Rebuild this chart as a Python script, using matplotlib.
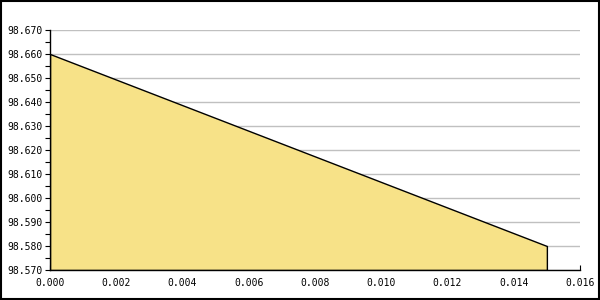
import matplotlib
matplotlib.use("Agg")
import matplotlib.pyplot as plt
from matplotlib.patches import Rectangle
from matplotlib.ticker import MultipleLocator, FormatStrFormatter

plt.rcParams['font.family'] = ['DejaVu Sans Mono']

x_values = [0.000, 0.015]
y_values = [98.660, 98.580]

fig = plt.figure(figsize=(6, 3), dpi=100)
ax = fig.add_axes([50/600, 30/300, 530/600, 240/300])

base = 98.570
ax.fill_between(x_values, y_values, base, facecolor="#f7e288", edgecolor="black", linewidth=1.0, zorder=2)

ax.set_xlim(0, 0.016)
ax.set_ylim(98.570, 98.670)
ax.xaxis.set_major_locator(MultipleLocator(0.002))
ax.yaxis.set_major_locator(MultipleLocator(0.010))
ax.yaxis.set_minor_locator(MultipleLocator(0.005))
ax.xaxis.set_major_formatter(FormatStrFormatter("%.3f"))
ax.yaxis.set_major_formatter(FormatStrFormatter("%.3f"))

ax.grid(axis="y", color="#c0c0c0", linewidth=1.0, zorder=0)
ax.set_axisbelow(True)
for s in ["top", "right"]:
    ax.spines[s].set_visible(False)
for s in ["left", "bottom"]:
    ax.spines[s].set_color("black")
    ax.spines[s].set_linewidth(1.0)
    ax.spines[s].set_zorder(3)

ax.tick_params(axis="y", which="both", direction="out", length=3.6, width=0.8, labelsize=7, pad=2)
ax.tick_params(axis="x", which="major", direction="in", length=3.6, width=0.8, labelsize=7, pad=5.5)

fig.patches.append(Rectangle((0.001, 0.002), 0.997, 0.995, transform=fig.transFigure,
                             fill=False, edgecolor="black", linewidth=1.5))
fig.savefig("out.png", dpi=100)
